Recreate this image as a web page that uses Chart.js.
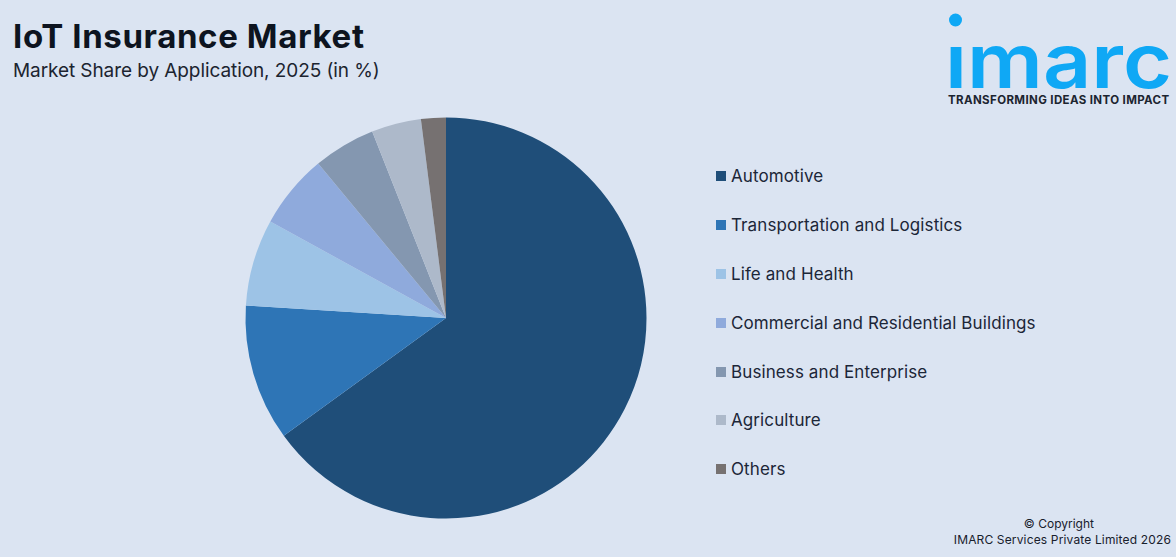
<!DOCTYPE html>
<html>
<head>
<meta charset="utf-8">
<title>IoT Insurance Market</title>
<script src="https://cdn.jsdelivr.net/npm/chart.js@4"></script>
<style>
    html, body { margin: 0; padding: 0; }
    body { width: 1176px; height: 557px; background: #dbe4f2; position: relative; overflow: hidden; font-family: 'Inter', sans-serif; color: #18202c; }
    .abs { position: absolute; white-space: nowrap; }
    #title { left: 13px; top: 16px; font-size: 33px; line-height: 40px; font-weight: 700; letter-spacing: 0.62px; color: #0d1420; }
    #subtitle { left: 13px; top: 59px; font-size: 19px; line-height: 24px; letter-spacing: -0.08px; color: #1c2430; }
    #chartWrap { left: 236px; top: 108px; width: 420px; height: 420px; }
    #logo { left: 930px; top: 0; }
    #tagline { left: 948px; top: 93px; font-size: 11.5px; line-height: 14px; font-weight: 700; letter-spacing: 0.38px; color: #1c2430; }
    #legend { left: 716px; top: 152px; list-style: none; margin: 0; padding: 0; }
    #legend li { display: flex; align-items: center; height: 48.8px; font-size: 17px; letter-spacing: 0.1px; color: #1c2638; }
    #legend span { display: block; width: 10px; height: 10px; margin-right: 5px; }
    #copy1 { right: 82px; top: 516px; font-size: 12px; line-height: 16px; }
    #copy2 { right: 5px; top: 532px; font-size: 12px; line-height: 16px; letter-spacing: 0.15px; }
</style>
</head>
<body>
<div class="abs" id="title">IoT Insurance Market</div>
<div class="abs" id="subtitle">Market Share by Application, 2025 (in %)</div>
<svg class="abs" id="logo" width="246" height="95">
    <defs><clipPath id="noDot"><rect x="0" y="46" width="246" height="50"/></clipPath></defs>
    <circle cx="25.5" cy="20" r="6.5" fill="#0fa8f5"/>
    <text x="15" y="88" font-family="Inter" font-size="76" font-weight="600" fill="#0fa8f5" textLength="227" lengthAdjust="spacingAndGlyphs" clip-path="url(#noDot)">imarc</text>
</svg>
<div class="abs" id="tagline">TRANSFORMING IDEAS INTO IMPACT</div>
<div class="abs" id="chartWrap"><canvas id="pieChart"></canvas></div>
<ul class="abs" id="legend"></ul>
<div class="abs" id="copy1">© Copyright</div>
<div class="abs" id="copy2">IMARC Services Private Limited 2026</div>
<script>
const categories = ['Automotive', 'Transportation and Logistics', 'Life and Health', 'Commercial and Residential Buildings', 'Business and Enterprise', 'Agriculture', 'Others'];
const shares = [65, 11, 7, 6, 5, 4, 2];
const sliceColors = ['#1f4e79', '#2e75b6', '#9dc3e6', '#8faadc', '#8497b0', '#adb9ca', '#767171'];

const htmlLegend = {
    id: 'htmlLegend',
    afterUpdate(chart) {
        const list = document.getElementById('legend');
        list.innerHTML = '';
        chart.options.plugins.legend.labels.generateLabels(chart).forEach(item => {
            const row = document.createElement('li');
            const box = document.createElement('span');
            box.style.background = item.fillStyle;
            row.appendChild(box);
            row.appendChild(document.createTextNode(item.text));
            list.appendChild(row);
        });
    }
};

new Chart(document.getElementById('pieChart').getContext('2d'), {
    type: 'pie',
    data: {
        labels: categories,
        datasets: [{
            data: shares,
            backgroundColor: sliceColors,
            borderWidth: 0,
            radius: 200.5
        }]
    },
    options: {
        responsive: true,
        maintainAspectRatio: true,
        animation: false,
        plugins: {
            legend: { display: false },
            tooltip: { enabled: false }
        }
    },
    plugins: [htmlLegend]
});
</script>
</body>
</html>
